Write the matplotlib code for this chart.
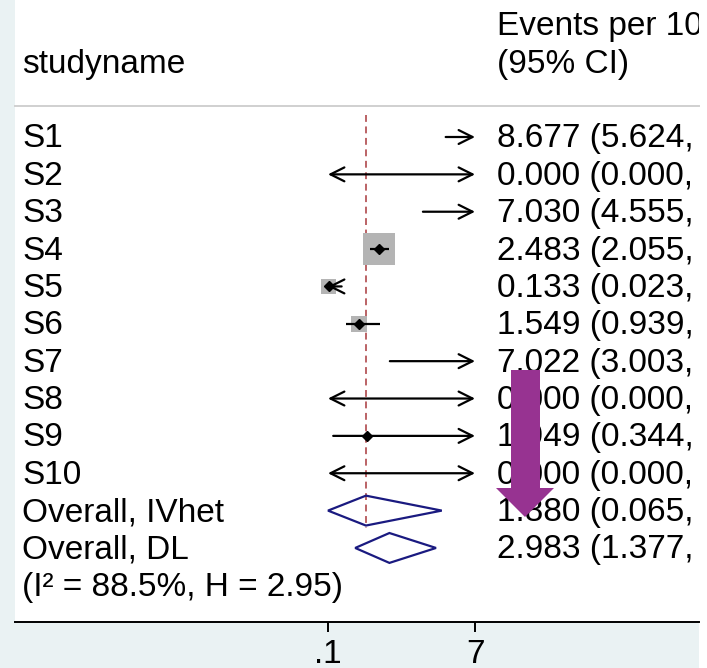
import matplotlib
matplotlib.use("Agg")
import matplotlib.pyplot as plt
from matplotlib.patches import Rectangle, Polygon
import matplotlib.transforms as mtrans
import numpy as np

plt.rcParams['font.family'] = ['Liberation Sans', 'DejaVu Sans']

# ---------------- data ----------------
studies = ["S1", "S2", "S3", "S4", "S5", "S6", "S7", "S8", "S9", "S10"]
est = [8.677, 0.000, 7.030, 2.483, 0.133, 1.549, 7.022, 0.000, 1.949, 0.000]
lower = [5.624, 0.000, 4.555, 2.055, 0.023, 0.939, 3.003, 0.000, 0.344, 0.000]
# upper limits: None = beyond the axis range (cut off in the picture)
upper = [None, None, None, 2.98, 0.74, 2.54, None, None, None, None]
# study weights (%); None = box not visible
weight = [None, None, None, 20.0, 4.4, 5.0, None, None, None, None]

overall_labels = ["Overall, IVhet", "Overall, DL"]
overall_est = [1.880, 2.983]
overall_lower = [0.065, 1.377]
overall_upper = [5.44, 5.17]
het_text = "(I\u00b2 = 88.5%, H = 2.95)"

col_left_header = "studyname"
col_right_header = ["Events per 10", "(95% CI)"]
xticks = [0.1, 7]
xticklabels = [".1", "7"]

# ---------------- figure ----------------
W, H = 707, 668
fig = plt.figure(figsize=(W / 100, H / 100), dpi=100)
fig.patch.set_facecolor("white")
fig.patches.append(Rectangle((0, 0), 699 / W, 1, transform=fig.transFigure,
                             facecolor="#EAF2F3", edgecolor="none", zorder=-5))

ax = fig.add_axes([15 / W, 46 / H, 684 / W, 622 / H])
ax.set_zorder(1)
ax.set_facecolor("white")
for s in ["top", "left", "right"]:
    ax.spines[s].set_visible(False)
ax.spines["bottom"].set_linewidth(1.4)
ax.spines["bottom"].set_color("black")

ppu = (475 - 328) / (7 - 0.1)
ax.set_xlim(0.1 - (328 - 15) / ppu, 0.1 + (699 - 328) / ppu)
rowh = 37.36
ax.set_ylim((622 - 137) / rowh, (0 - 137) / rowh)

FS = 24
ax.set_yticks([])
ax.set_xticks(xticks)
ax.set_xticklabels(xticklabels)
ax.tick_params(axis="x", direction="out", length=7, width=1.4, pad=5,
               labelsize=FS, colors="black")

xmin, xmax = xticks[0], xticks[-1]
btrans = mtrans.blended_transform_factory(ax.transAxes, ax.transData)
tx_left = 7 / 684
tx_right = 482 / 684
boff = 0.28  # baseline offset (rows)

# headers
ax.text(tx_left, -2 + boff, col_left_header, transform=btrans, fontsize=FS,
        va="baseline", ha="left")
ax.text(tx_right, -3 + boff, col_right_header[0], transform=btrans, fontsize=FS,
        va="baseline", ha="left", clip_on=True)
ax.text(tx_right, -2 + boff, col_right_header[1], transform=btrans, fontsize=FS,
        va="baseline", ha="left")
ax.plot([0, 1], [-0.83, -0.83], transform=btrans, color="#D0D0D0", lw=1.4,
        clip_on=False)

# overall (IVhet) dashed line
ax.plot([overall_est[0], overall_est[0]], [-0.59, 10.47], color="#A8383C",
        lw=1.1, ls=(0, (4.5, 3)), zorder=1)

LW = 1.6


def ci_line(y, lo, hi):
    lft = lo < xmin
    rgt = hi is None or hi > xmax
    a = max(lo, xmin)
    b = xmax if rgt else hi
    kw = dict(color="black", lw=LW, shrinkA=0, shrinkB=0,
              mutation_scale=20)
    st = ",head_length=0.5,head_width=0.25"
    if lft and rgt:
        ax.annotate("", xy=(b, y), xytext=(a, y),
                    arrowprops=dict(arrowstyle="<->" + st, **kw))
    elif rgt:
        ax.annotate("", xy=(b, y), xytext=(a, y),
                    arrowprops=dict(arrowstyle="->" + st, **kw))
    elif lft:
        ax.annotate("", xy=(a, y), xytext=(b, y),
                    arrowprops=dict(arrowstyle="->" + st, **kw))
    else:
        ax.plot([a, b], [y, y], color="black", lw=LW, solid_capstyle="butt")


for i, name in enumerate(studies):
    ax.text(tx_left, i + boff, name, transform=btrans, fontsize=FS,
            va="baseline", ha="left")
    ax.text(tx_right, i + boff, f"{est[i]:.3f} ({lower[i]:.3f},",
            transform=btrans, fontsize=FS, va="baseline", ha="left",
            clip_on=True)
    if weight[i] is not None and xmin <= est[i] <= xmax:
        side_px = 32 * np.sqrt(weight[i] / 20.0)
        ax.scatter([est[i]], [i], marker="s", s=(side_px * 0.72) ** 2,
                   color="#B4B4B4", edgecolors="none", zorder=2)
    ci_line(i, lower[i], upper[i])
    if xmin <= est[i] <= xmax:
        ax.plot([est[i]], [i], marker="D", ms=5, color="black", zorder=4)

for j, lab in enumerate(overall_labels):
    y = len(studies) + j
    ax.text(tx_left, y + boff, lab, transform=btrans, fontsize=FS,
            va="baseline", ha="left")
    ax.text(tx_right, y + boff, f"{overall_est[j]:.3f} ({overall_lower[j]:.3f},",
            transform=btrans, fontsize=FS, va="baseline", ha="left",
            clip_on=True)
    lo = max(overall_lower[j], xmin)
    hi = min(overall_upper[j], xmax)
    h = 0.40
    ax.add_patch(Polygon([(lo, y), (overall_est[j], y - h), (hi, y),
                          (overall_est[j], y + h)], closed=True,
                         facecolor="none", edgecolor="#1A1A80", lw=1.6,
                         zorder=3))

ax.text(tx_left, len(studies) + 2 + boff, het_text, transform=btrans,
        fontsize=FS, va="baseline", ha="left")

# purple overlay arrow (annotation graphic, figure pixel coordinates)
def fp(x, y):
    return (x / W, 1 - y / H)

arrow_pts = [fp(511, 370), fp(540, 370), fp(540, 488), fp(554, 488),
             fp(525, 517), fp(496, 488), fp(511, 488)]
fig.patches.append(Polygon(arrow_pts, closed=True, transform=fig.transFigure,
                           facecolor="#973391", edgecolor="none", zorder=10))

fig.savefig("out.png", dpi=100)
